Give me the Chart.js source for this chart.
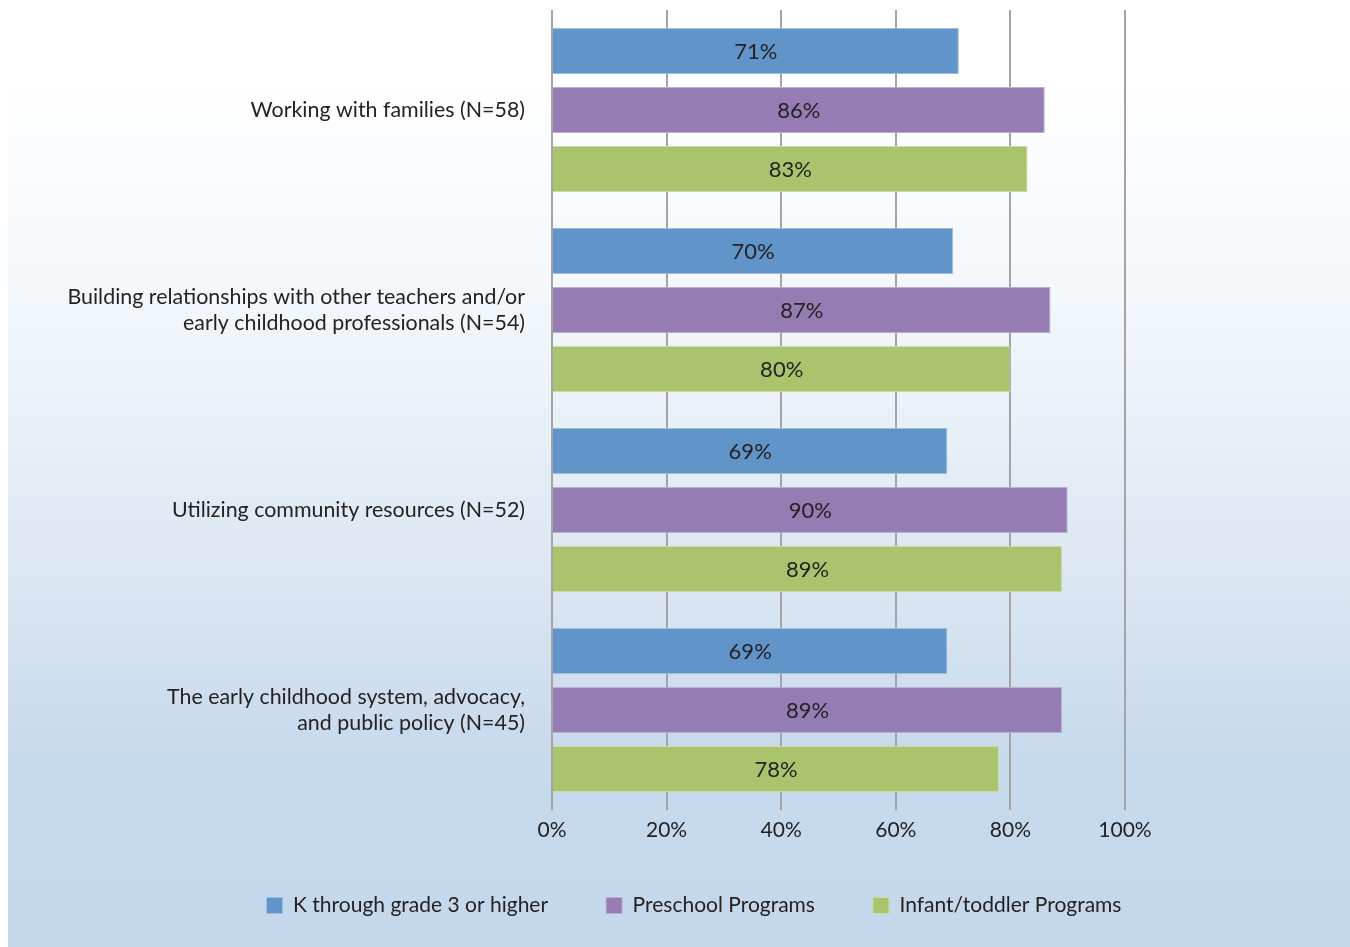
<!DOCTYPE html>
<html lang="en">
<head>
    <meta charset="UTF-8">
    <title>Professional development topics by program type</title>
    <script src="https://cdn.jsdelivr.net/npm/chart.js@4"></script>
    <style>
        body {
            margin: 0;
            background: #ffffff;
        }
        canvas {
            display: block;
        }
    </style>
</head>
<body>
    <canvas id="chart" width="1350" height="947"></canvas>
    <script>
        const categories = [
            'Working with families (N=58)',
            ['Building relationships with other teachers and/or', 'early childhood professionals (N=54)'],
            'Utilizing community resources (N=52)',
            ['The early childhood system, advocacy,', 'and public policy (N=45)']
        ];
        const seriesNames = ['K through grade 3 or higher', 'Preschool Programs', 'Infant/toddler Programs'];
        const kThrough3 = [71, 70, 69, 69];
        const preschool = [86, 87, 90, 89];
        const infantToddler = [83, 80, 89, 78];
        const tickValues = [0, 20, 40, 60, 80, 100];

        const fontFamily = 'Lato, "Noto Sans", sans-serif';
        const textColor = '#242223';

        // gradient panel behind the chart
        const backgroundPanel = {
            id: 'backgroundPanel',
            beforeDraw(chart) {
                const ctx = chart.ctx;
                const h = chart.height;
                const g = ctx.createLinearGradient(0, 0, 0, h);
                g.addColorStop(0, '#ffffff');
                g.addColorStop(0.08, '#ffffff');
                g.addColorStop(0.3, '#f4f8fb');
                g.addColorStop(0.5, '#e4edf6');
                g.addColorStop(0.65, '#d7e4f1');
                g.addColorStop(0.8, '#c7d9ec');
                g.addColorStop(1, '#c5d8eb');
                ctx.save();
                ctx.fillStyle = g;
                ctx.fillRect(8, 0, chart.width - 8, h);
                ctx.restore();
            }
        };

        // percentage text centred inside each bar
        const barLabels = {
            id: 'barLabels',
            afterDatasetsDraw(chart) {
                const ctx = chart.ctx;
                ctx.save();
                ctx.font = '22px ' + fontFamily;
                ctx.fillStyle = textColor;
                ctx.textAlign = 'center';
                ctx.textBaseline = 'middle';
                chart.data.datasets.forEach((ds, i) => {
                    chart.getDatasetMeta(i).data.forEach((bar, j) => {
                        ctx.fillText(ds.data[j] + '%', (bar.x + bar.base) / 2, bar.y + 1);
                    });
                });
                ctx.restore();
            }
        };

        new Chart(document.getElementById('chart'), {
            type: 'bar',
            data: {
                labels: categories,
                datasets: [
                    { label: seriesNames[0], data: kThrough3, backgroundColor: '#6195c9', borderColor: '#9dbde0' },
                    { label: seriesNames[1], data: preschool, backgroundColor: '#957cb2', borderColor: '#bcaed2' },
                    { label: seriesNames[2], data: infantToddler, backgroundColor: '#a9c46d', borderColor: '#cadca3' }
                ].map(d => Object.assign(d, { borderWidth: 1, categoryPercentage: 0.885, barPercentage: 0.78 }))
            },
            options: {
                indexAxis: 'y',
                responsive: false,
                animation: false,
                layout: { padding: { left: 38, right: 0, top: 10, bottom: 21 } },
                plugins: {
                    legend: {
                        position: 'bottom',
                        labels: {
                            boxWidth: 16,
                            boxHeight: 16,
                            padding: 58,
                            color: textColor,
                            font: { family: fontFamily, size: 21 }
                        }
                    },
                    tooltip: { enabled: false }
                },
                scales: {
                    x: {
                        min: 0,
                        max: 100,
                        afterBuildTicks(scale) {
                            scale.ticks = tickValues.map(v => ({ value: v }));
                        },
                        afterFit(scale) { scale.height = 27; },
                        grid: { color: '#a3a3a8', lineWidth: 2, drawTicks: false },
                        border: { display: false },
                        ticks: {
                            padding: 8,
                            color: textColor,
                            font: { family: fontFamily, size: 21 },
                            callback: v => v + '%'
                        }
                    },
                    y: {
                        afterFit(scale) {
                            scale.width = 514;
                            scale.paddingTop = 0;
                            scale.paddingBottom = 0;
                        },
                        grid: { display: false, drawTicks: false },
                        border: { display: false },
                        ticks: {
                            padding: 27,
                            color: textColor,
                            font: { family: fontFamily, size: 21.4, lineHeight: 1.22 }
                        }
                    },
                    // empty right-hand axis that keeps the space right of 100%
                    yRight: {
                        type: 'category',
                        position: 'right',
                        afterFit(scale) {
                            scale.width = 225;
                            scale.paddingTop = 0;
                            scale.paddingBottom = 0;
                        },
                        grid: { display: false, drawTicks: false },
                        border: { display: false },
                        ticks: { display: false }
                    }
                }
            },
            plugins: [backgroundPanel, barLabels]
        });
    </script>
</body>
</html>
